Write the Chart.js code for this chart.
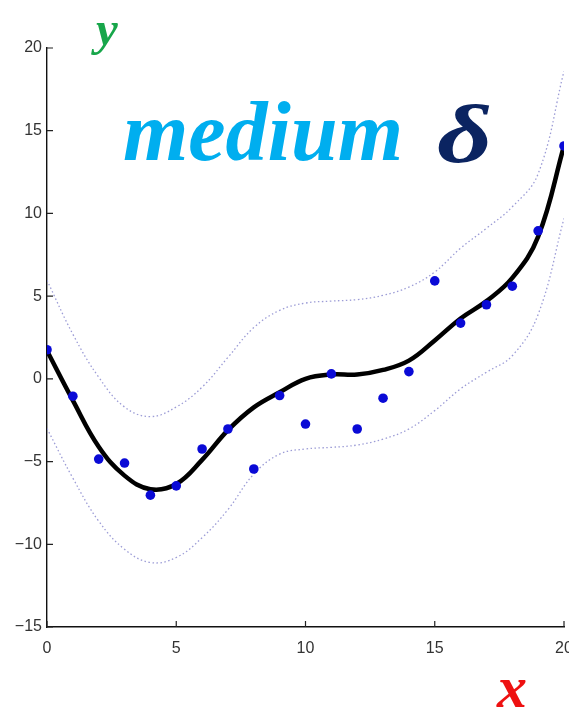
<!DOCTYPE html>
<html>
<head>
<meta charset="utf-8">
<script src="https://cdn.jsdelivr.net/npm/chart.js@4.4.1/dist/chart.umd.min.js"></script>
<style>
  html, body { margin: 0; padding: 0; background: #fff; }
  #wrap { width: 569px; height: 713px; overflow: hidden; position: relative; }
  canvas { display: block; }
</style>
</head>
<body>
<div id="wrap"><canvas id="fitChart" width="600" height="713"></canvas></div>
<script>
// Dados
const xValues = [0, 1, 2, 3, 4, 5, 6, 7, 8, 9, 10, 11, 12, 13, 14, 15, 16, 17, 18, 19, 20];
const observed = [1.76, -1.05, -4.85, -5.09, -7.03, -6.47, -4.24, -3.03, -5.45, -1.01, -2.73, 0.3, -3.03, -1.17, 0.44, 5.92, 3.37, 4.48, 5.6, 8.95, 14.08];
const fitted = [1.7, -1.3, -4.1, -5.85, -6.67, -6.36, -4.9, -3.1, -1.72, -0.81, 0.0, 0.26, 0.26, 0.54, 1.1, 2.32, 3.65, 4.7, 6.1, 8.6, 14.08];
const upperBand = [5.96, 2.7, 0.1, -1.7, -2.28, -1.7, -0.5, 1.3, 3.1, 4.14, 4.58, 4.7, 4.79, 5.05, 5.55, 6.46, 7.9, 9.1, 10.4, 12.4, 18.6];
const lowerBand = [-3.0, -6.0, -8.6, -10.3, -11.1, -10.8, -9.6, -7.9, -5.76, -4.55, -4.24, -4.14, -4.0, -3.64, -3.03, -1.92, -0.6, 0.4, 1.4, 3.9, 9.7];
const xTicks = [0, 5, 10, 15, 20];
const yTicks = [-15, -10, -5, 0, 5, 10, 15, 20];

function toPoints(ys) {
    return xValues.map((x, i) => ({ x: x, y: ys[i] }));
}

// Marcas dos eixos para dentro (estilo MATLAB)
const inwardTicks = {
    id: 'inwardTicks',
    afterDatasetsDraw(chart) {
        const ctx = chart.ctx;
        const xs = chart.scales.x, ys = chart.scales.y;
        const area = chart.chartArea;
        ctx.save();
        ctx.strokeStyle = '#222';
        ctx.lineWidth = 1.2;
        ctx.beginPath();
        xs.ticks.forEach(t => {
            const px = xs.getPixelForValue(t.value);
            ctx.moveTo(px, area.bottom);
            ctx.lineTo(px, area.bottom - 6);
        });
        ys.ticks.forEach(t => {
            const py = ys.getPixelForValue(t.value);
            ctx.moveTo(area.left, py);
            ctx.lineTo(area.left + 6, py);
        });
        ctx.stroke();
        ctx.restore();
    }
};

// Textos sobrepostos
const overlayText = {
    id: 'overlayText',
    afterDraw(chart) {
        const ctx = chart.ctx;
        ctx.save();
        ctx.textBaseline = 'alphabetic';
        ctx.textAlign = 'left';
        ctx.font = 'italic bold 49px "Liberation Serif", serif';
        ctx.fillStyle = '#17a64a';
        ctx.fillText('y', 96, 45);
        ctx.font = 'italic bold 84px "Liberation Serif", serif';
        ctx.fillStyle = '#00aeef';
        ctx.fillText('medium', 123, 160);
        // delta mais largo que o da fonte
        ctx.save();
        ctx.translate(437, 162);
        ctx.scale(1.2, 0.92);
        ctx.font = 'italic bold 90px "Liberation Serif", serif';
        ctx.fillStyle = '#0b2461';
        ctx.fillText('\u03b4', 0, 0);
        ctx.restore();
        ctx.font = 'italic bold 60px "Liberation Serif", serif';
        ctx.fillStyle = '#ee1111';
        ctx.fillText('x', 497, 707);
        ctx.restore();
    }
};

const bandStyle = {
    borderColor: '#9c9cd6',
    borderWidth: 1.3,
    borderDash: [1.5, 2.5],
    pointRadius: 0,
    showLine: true,
    fill: false,
    tension: 0.4,
    order: 3
};

const tickFont = { family: '"Liberation Sans Narrow", "Liberation Sans", Arial, sans-serif', size: 16 };

new Chart(document.getElementById('fitChart'), {
    type: 'scatter',
    data: {
        datasets: [
            {
                label: 'observado',
                data: toPoints(observed),
                pointRadius: 4.8,
                pointBackgroundColor: '#0a0ad6',
                pointBorderWidth: 0,
                showLine: false,
                order: 0
            },
            {
                label: 'ajuste',
                data: toPoints(fitted),
                borderColor: '#000',
                borderWidth: 4.5,
                pointRadius: 0,
                showLine: true,
                tension: 0.4,
                order: 1
            },
            Object.assign({ label: 'superior', data: toPoints(upperBand) }, bandStyle),
            Object.assign({ label: 'inferior', data: toPoints(lowerBand) }, bandStyle)
        ]
    },
    options: {
        responsive: false,
        animation: false,
        layout: { padding: { top: 48, right: 36, bottom: 0, left: 0 } },
        scales: {
            x: {
                type: 'linear',
                min: 0,
                max: 20,
                afterBuildTicks: s => { s.ticks = xTicks.map(v => ({ value: v })); },
                afterFit: s => { s.height = 86; },
                grid: { display: false, drawTicks: false },
                border: { display: true, color: '#111', width: 1.4 },
                ticks: {
                    padding: 12,
                    color: '#333',
                    font: tickFont,
                    maxRotation: 0,
                    callback: v => String(v).replace('-', '\u2212')
                }
            },
            y: {
                type: 'linear',
                min: -15,
                max: 20,
                afterBuildTicks: s => { s.ticks = yTicks.map(v => ({ value: v })); },
                afterFit: s => { s.width = 47; },
                grid: { display: false, drawTicks: false },
                border: { display: true, color: '#111', width: 1.4 },
                ticks: {
                    padding: 5,
                    color: '#333',
                    font: tickFont,
                    callback: v => String(v).replace('-', '\u2212')
                }
            }
        },
        plugins: {
            legend: { display: false },
            tooltip: { enabled: false }
        }
    },
    plugins: [inwardTicks, overlayText]
});
</script>
</body>
</html>
